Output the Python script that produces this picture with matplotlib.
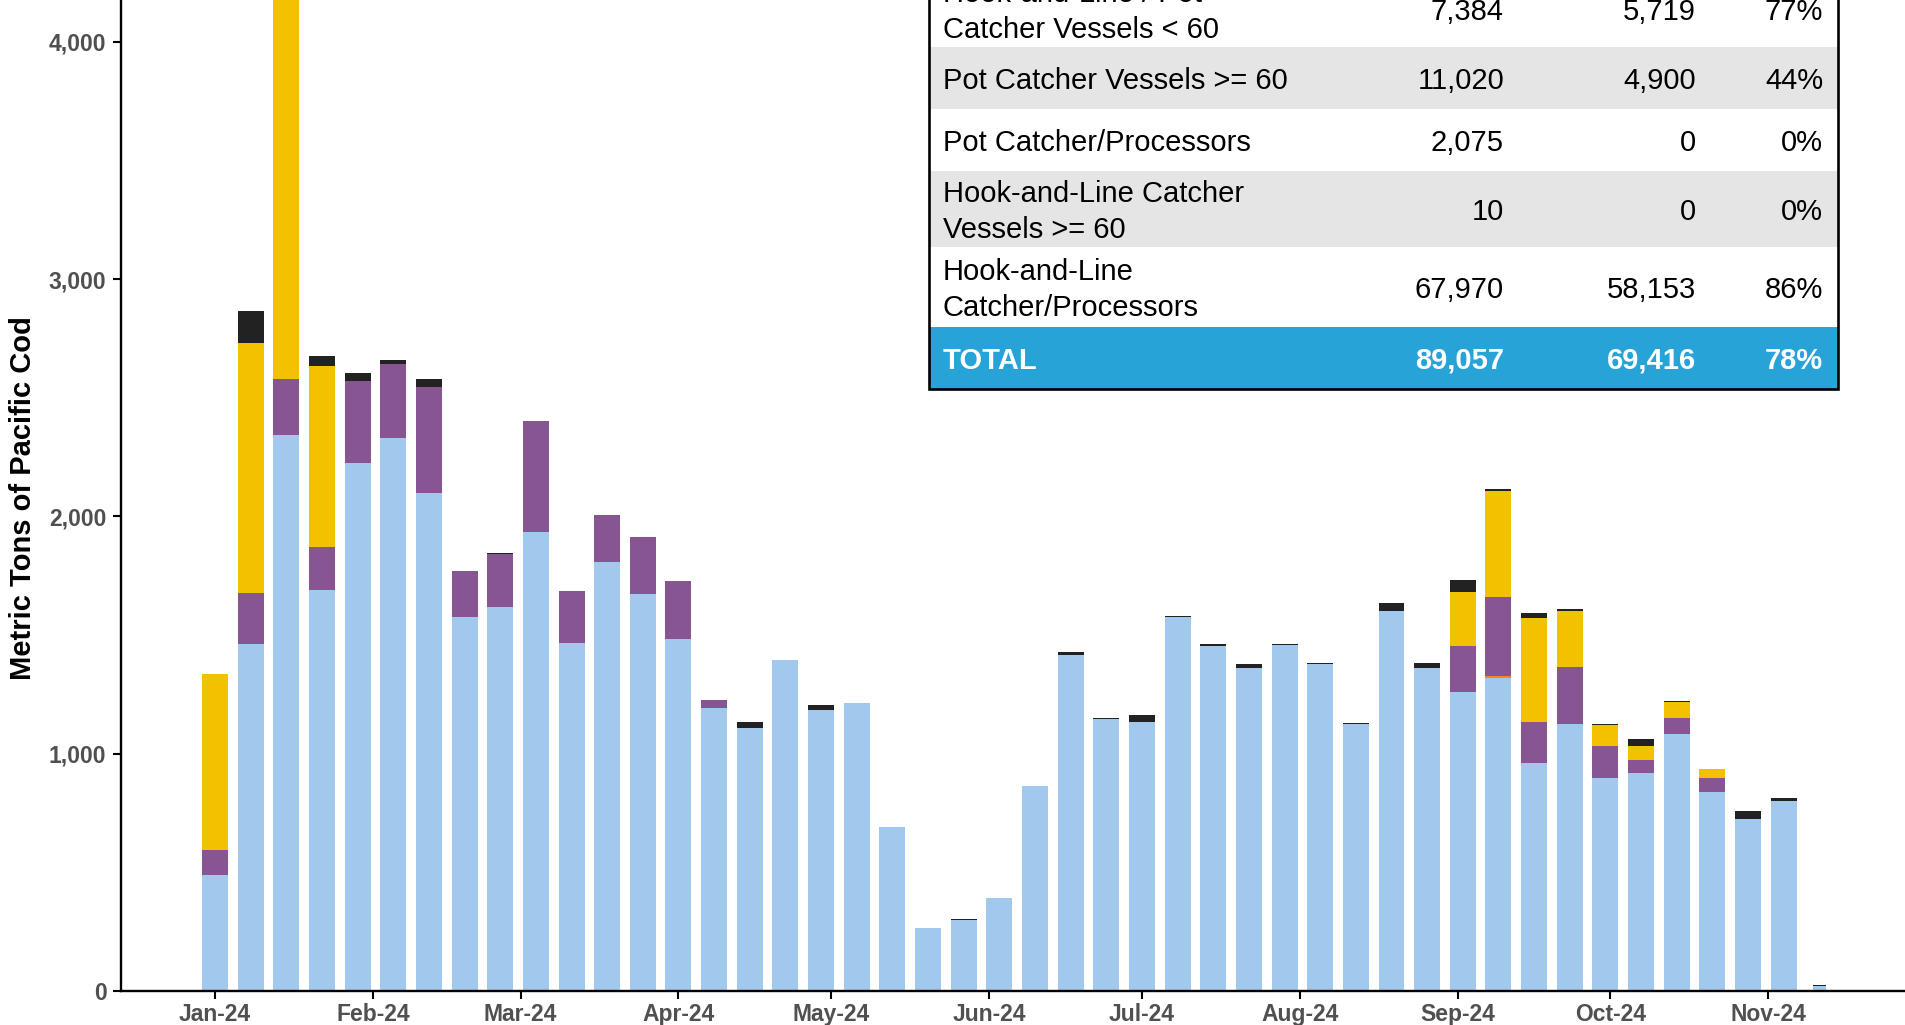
import matplotlib
matplotlib.use("Agg")
import matplotlib.pyplot as plt
import matplotlib.dates as mdates
from matplotlib.patches import Rectangle
import numpy as np
import pandas as pd

plt.rcParams["font.family"] = ["Liberation Sans", "DejaVu Sans"]

# weekly catch, metric tons (one bar per week)
weeks = pd.date_range("2024-01-01", periods=46, freq="7D")

hal_cp = [489, 1464, 2341, 1691, 2227, 2332, 2100, 1574, 1619, 1935, 1468, 1809,
          1674, 1485, 1194, 1109, 1396, 1185, 1215, 692, 266, 300, 392, 865,
          1417, 1148, 1134, 1577, 1455, 1362, 1459, 1379, 1126, 1603, 1362, 1261,
          1320, 962, 1127, 898, 919, 1081, 838, 725, 801, 19]
orange = [0] * 36 + [6] + [0] * 9
pot_cv60 = [106, 215, 240, 182, 342, 312, 447, 197, 221, 465, 219, 199,
            241, 244, 33, 0, 0, 0, 0, 0, 0, 0, 0, 0,
            0, 0, 0, 0, 0, 0, 0, 0, 0, 0, 0, 191,
            336, 172, 239, 136, 55, 70, 60, 0, 0, 0]
hal_pot_cv = [742, 1050, 1600, 759, 0, 0, 0, 0, 0, 0, 0, 0,
              0, 0, 0, 0, 0, 0, 0, 0, 0, 0, 0, 0,
              0, 0, 0, 0, 0, 0, 0, 0, 0, 0, 0, 231,
              443, 439, 237, 88, 60, 67, 38, 0, 0, 0]
other = [0, 135, 0, 42, 37, 13, 30, 0, 7, 0, 0, 0,
         0, 0, 0, 25, 0, 21, 0, 0, 0, 4, 0, 0,
         13, 3, 30, 5, 9, 17, 5, 4, 4, 34, 21, 50,
         12, 18, 8, 5, 29, 5, 0, 34, 13, 6]

# summary table
row_labels = ["Hook-and-Line / Pot\nCatcher Vessels < 60", "Pot Catcher Vessels >= 60",
              "Pot Catcher/Processors", "Hook-and-Line Catcher\nVessels >= 60",
              "Hook-and-Line\nCatcher/Processors", "TOTAL"]
col_allocation = ["7,384", "11,020", "2,075", "10", "67,970", "89,057"]
col_catch = ["5,719", "4,900", "0", "0", "58,153", "69,416"]
col_pct = ["77%", "44%", "0%", "0%", "86%", "78%"]

W, H = 1905, 1025
fig = plt.figure(figsize=(W / 100, H / 100), dpi=100)

# axes runs past the top and right of the picture (cropped chart)
px_day = 5.093
x0 = mdates.date2num(pd.Timestamp("2024-01-01"))
left_days, right_days = 18.46, 333.5
ymax = 4400
px_unit = 0.2373
ax = fig.add_axes([121 / W, (H - 991) / H,
                   (left_days + right_days) * px_day / W, ymax * px_unit / H])

x = mdates.date2num(weeks)
widths = np.full(len(x), 5.1)
widths[-1] = 2.45

series = [(hal_cp, "#A1C9EE"), (orange, "#F08A1C"), (pot_cv60, "#875591"),
          (hal_pot_cv, "#F2C200"), (other, "#222222")]
bottom = np.zeros(len(x))
for vals, col in series:
    vals = np.array(vals, dtype=float)
    ax.bar(x, vals, width=widths, bottom=bottom, color=col, linewidth=0)
    bottom += vals

ax.set_xlim(x0 - left_days, x0 + right_days)
ax.set_ylim(0, ymax)
ax.xaxis.set_major_locator(mdates.MonthLocator())
ax.xaxis.set_major_formatter(mdates.DateFormatter("%b-%y"))
ax.set_yticks([0, 1000, 2000, 3000, 4000])
ax.yaxis.set_major_formatter(matplotlib.ticker.FuncFormatter(lambda v, p: f"{int(v):,}"))

for s in ["top", "right"]:
    ax.spines[s].set_visible(False)
for s in ["left", "bottom"]:
    ax.spines[s].set_linewidth(1.7)
ax.tick_params(axis="both", direction="out", length=5.5, width=1.5, color="black",
               labelsize=16.5, labelcolor="#505050")
ax.tick_params(axis="y", pad=5)
ax.tick_params(axis="x", pad=3)
for lab in ax.get_xticklabels() + ax.get_yticklabels():
    lab.set_fontweight("bold")

fig.text(23 / W, 1 - 498 / H, "Metric Tons of Pacific Cod", rotation=90,
         ha="center", va="center", fontsize=21, fontweight="bold", color="black")

# table overlay in pixel coordinates
tab = fig.add_axes([0, 0, 1, 1])
tab.set_xlim(0, W)
tab.set_ylim(H, 0)
tab.axis("off")
tab.set_zorder(5)

row_edges = [-29, 47, 109, 171, 247, 327, 388.5]
row_fill = ["white", "#E5E5E5", "white", "#E5E5E5", "white", "#27A3D7"]
t_left, t_right = 929, 1838
col_right = [1504, 1696, 1823]
for i, lab in enumerate(row_labels):
    top, bot = row_edges[i], row_edges[i + 1]
    tab.add_patch(Rectangle((t_left, top), t_right - t_left, bot - top,
                            facecolor=row_fill[i], edgecolor="none"))
    yc = (top + bot) / 2 + 3
    total = lab == "TOTAL"
    kw = dict(fontsize=21, va="center",
              color="white" if total else "black",
              fontweight="bold" if total else "normal")
    tab.text(943, yc, lab, ha="left", linespacing=1.32, **kw)
    for cx, vals in zip(col_right, [col_allocation, col_catch, col_pct]):
        tab.text(cx, yc, vals[i], ha="right", **kw)
tab.add_patch(Rectangle((t_left, row_edges[0]), t_right - t_left,
                        row_edges[-1] - row_edges[0], facecolor="none",
                        edgecolor="black", linewidth=1.9))

fig.savefig("out.png", dpi=100)
